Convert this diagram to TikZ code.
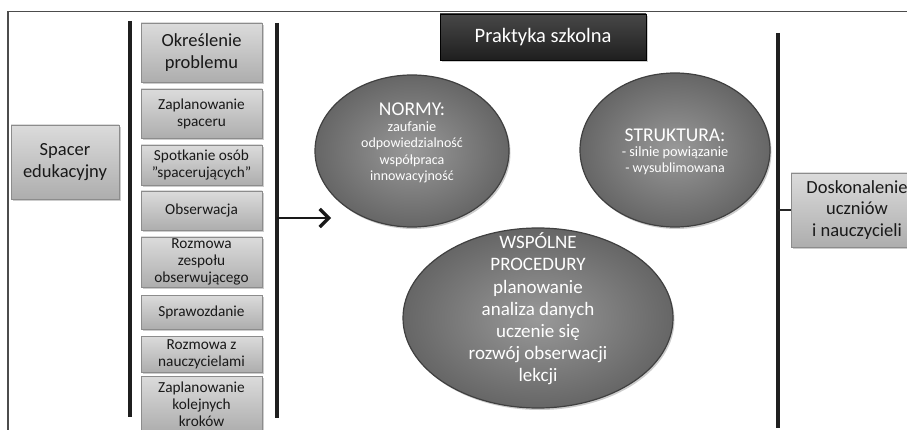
\documentclass[tikz,border=0pt]{standalone}
\usepackage{fontspec}
\setmainfont{Carlito}
\usetikzlibrary{shapes.geometric,shadows,arrows.meta}
\begin{document}
\begin{tikzpicture}[x=1pt,y=-1pt,
  shd/.style={drop shadow={opacity=0.4, shadow xshift=1.5pt, shadow yshift=-2pt}},
  box/.style={shd, draw=black!45, line width=0.6pt, top color=black!14, bottom color=black!32,
    inner sep=0pt, align=center, text=black!90, minimum width=121pt},
  bigtxt/.style={font=\fontsize{18.5}{21.5}\selectfont},
  smtxt/.style={font=\fontsize{15.3}{17}\selectfont},
  oval/.style={shd, ellipse, draw=black!75, line width=1.2pt, inner color=black!40, outer color=black!60,
    inner sep=0pt},
  ovtxt/.style={text=white, align=center},
  vline/.style={line width=3.4pt, black!88},
  frame/.style={line width=1.2pt, black!70}
]
\useasboundingbox (0,0) rectangle (907,430);
\fill[white] (0,0) rectangle (907,430);
% frame
\coordinate (fBL) at (8,440);
\coordinate (fTL) at (8,11.5);
\coordinate (fTR) at (915,11.5);
\draw[frame] (fBL) -- (fTL) -- (fTR);

% left box
\node[box, bigtxt, minimum width=108pt, minimum height=74pt] (spacer) at (65,162) {Spacer\\edukacyjny};

% vertical lines
\coordinate (l1t) at (130,21); \coordinate (l1b) at (130,417);
\coordinate (l2t) at (277,23); \coordinate (l2b) at (277,418);
\coordinate (l3t) at (778,33); \coordinate (l3b) at (778,428);
\draw[vline] (l1t) -- (l1b);
\draw[vline] (l2t) -- (l2b);
\draw[vline] (l3t) -- (l3b);

% column boxes
\node[box, bigtxt, minimum height=59pt] (b1) at (201.5,52.5) {Określenie\\problemu};
\node[box, smtxt, minimum height=49pt] (b2) at (201.5,113.5) {Zaplanowanie\\spaceru};
\node[box, smtxt, minimum height=40pt] (b3) at (201.5,165) {Spotkanie osób\\"spacerujących"};
\node[box, smtxt, minimum height=39pt] (b4) at (201.5,210.5) {Obserwacja};
\node[box, smtxt, minimum height=50pt] (b5) at (201.5,262) {Rozmowa\\zespołu\\obserwującego};
\node[box, smtxt, minimum height=34pt] (b6) at (201.5,312) {Sprawozdanie};
\node[box, smtxt, minimum height=36pt] (b7) at (201.5,354) {Rozmowa z\\nauczycielami};
\node[box, smtxt, minimum height=56pt] (b8) at (201.5,404) {Zaplanowanie\\kolejnych\\kroków};

% arrow
\coordinate (arS) at (277,218);
\coordinate (arE) at (331,218);
\draw[line width=2.6pt, black!90, -{Straight Barb[length=9pt,width=18pt,line width=3.2pt]}] (arS) -- (arE);

% title
\node[shd, draw=black, line width=0.8pt, top color=black!72, bottom color=black!88, text=white,
  font=\fontsize{20.5}{24}\selectfont, minimum width=206pt, minimum height=46pt, inner sep=0pt] (prak) at (543,37) {Praktyka szkolna};

% ellipses
\node[oval, minimum width=194pt, minimum height=152pt] (normy) at (412,151) {};
\node[ovtxt, font=\fontsize{14}{16.5}\selectfont] (normyT) at (412,143) {\fontsize{19.5}{22}\selectfont NORMY:\\[-1pt]
  \fontsize{14.3}{16.5}\selectfont zaufanie\\odpowiedzialność\\współpraca\\innowacyjność};

\node[oval, minimum width=190pt, minimum height=154pt] (strukt) at (675,150) {};
\node[ovtxt, font=\fontsize{14}{16.5}\selectfont] (struktT) at (675,152) {\fontsize{19.5}{22}\selectfont STRUKTURA:\\[-2pt]
  \fontsize{14.3}{16.5}\selectfont - silnie powiązanie\\- wysublimowana};

\node[oval, minimum width=270pt, minimum height=180pt] (wspol) at (538,318) {};
\node[ovtxt, font=\fontsize{19}{22.2}\selectfont] (wspolT) at (538,309) {WSPÓLNE\\PROCEDURY\\planowanie\\analiza danych\\uczenie się\\rozwój obserwacji\\lekcji};

% right box
\node[box, bigtxt, minimum width=132pt, minimum height=74pt] (dosk) at (857,210) {Doskonalenie\\uczniów\\i nauczycieli};
\coordinate (l3m) at (778,210);
\draw[line width=2.6pt, black!85] (l3m) -- (dosk.west);
\end{tikzpicture}
\end{document}
